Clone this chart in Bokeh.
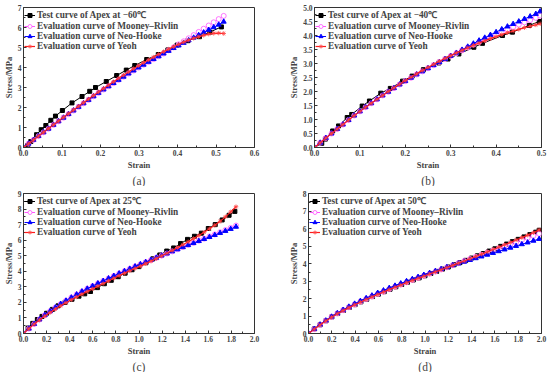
from bokeh.plotting import figure
from bokeh.layouts import column, row
from bokeh.models import FixedTicker, PrintfTickFormatter
from bokeh.embed import file_html
from bokeh.resources import INLINE

SERIF = "Liberation Serif"

# ---------------- data ----------------
# (a) -60 C
A_TEST_X = [0, 0.011, 0.019, 0.034, 0.046, 0.058, 0.071, 0.083, 0.101, 0.126, 0.152, 0.172, 0.187,
            0.215, 0.242, 0.267, 0.289, 0.32, 0.35, 0.375, 0.399, 0.427, 0.457, 0.484, 0.514]
A_TEST_Y = [0, 0.1, 0.3, 0.64, 0.89, 1.1, 1.36, 1.57, 1.85, 2.23, 2.55, 2.81, 3.0,
            3.3, 3.6, 3.87, 4.1, 4.4, 4.65, 4.88, 5.12, 5.34, 5.54, 5.77, 6.03]
A_EV_X = [0, 0.013, 0.026, 0.039, 0.052, 0.065, 0.078, 0.091, 0.104, 0.117, 0.13, 0.143, 0.156, 0.169,
          0.182, 0.195, 0.208, 0.221, 0.234, 0.247, 0.26, 0.273, 0.286, 0.299, 0.312, 0.325, 0.338,
          0.351, 0.364, 0.377, 0.39, 0.403, 0.416, 0.429, 0.442, 0.455, 0.468, 0.481, 0.494, 0.507, 0.52]
A_NH = [0, 0.19, 0.38, 0.57, 0.76, 0.94, 1.13, 1.31, 1.49, 1.67, 1.85, 2.03, 2.21, 2.38, 2.56, 2.73,
        2.90, 3.06, 3.22, 3.38, 3.54, 3.70, 3.85, 4.00, 4.14, 4.28, 4.42, 4.56, 4.70, 4.83, 4.97,
        5.10, 5.23, 5.36, 5.49, 5.62, 5.75, 5.88, 6.01, 6.14, 6.29]
A_MR = [0, 0.19, 0.38, 0.57, 0.76, 0.94, 1.13, 1.31, 1.49, 1.67, 1.85, 2.03, 2.21, 2.38, 2.56, 2.73,
        2.90, 3.06, 3.22, 3.38, 3.54, 3.70, 3.85, 4.00, 4.14, 4.28, 4.42, 4.56, 4.70, 4.86, 5.01,
        5.16, 5.31, 5.46, 5.62, 5.78, 5.94, 6.10, 6.26, 6.42, 6.58]
A_YEOH = [0, 0.19, 0.38, 0.57, 0.76, 0.95, 1.14, 1.32, 1.51, 1.69, 1.88, 2.06, 2.24, 2.42, 2.60, 2.78,
          2.95, 3.12, 3.29, 3.46, 3.62, 3.78, 3.94, 4.09, 4.24, 4.38, 4.52, 4.66, 4.79, 4.92, 5.04,
          5.16, 5.27, 5.37, 5.46, 5.54, 5.61, 5.67, 5.71, 5.72, 5.70]

# (b) -40 C
B_TEST_X = [0, 0.016, 0.024, 0.04, 0.053, 0.072, 0.082, 0.105, 0.121, 0.146, 0.167, 0.194, 0.215,
            0.24, 0.274, 0.294, 0.318, 0.351, 0.37, 0.414, 0.436, 0.473, 0.495]
B_TEST_Y = [0, 0.15, 0.3, 0.59, 0.77, 1.07, 1.18, 1.48, 1.66, 1.94, 2.11, 2.37, 2.55,
            2.78, 3.02, 3.16, 3.34, 3.58, 3.72, 4.0, 4.12, 4.36, 4.5]
B_EV_X = [0, 0.0125, 0.025, 0.0375, 0.05, 0.0625, 0.075, 0.0875, 0.1, 0.1125, 0.125, 0.1375, 0.15,
          0.1625, 0.175, 0.1875, 0.2, 0.2125, 0.225, 0.2375, 0.25, 0.2625, 0.275, 0.2875, 0.3, 0.3125,
          0.325, 0.3375, 0.35, 0.3625, 0.375, 0.3875, 0.4, 0.4125, 0.425, 0.4375, 0.45, 0.4625, 0.475,
          0.4875, 0.497]
B_NH = [0, 0.17, 0.34, 0.50, 0.66, 0.82, 0.98, 1.14, 1.29, 1.44, 1.58, 1.72, 1.86, 1.99, 2.12, 2.25,
        2.37, 2.49, 2.61, 2.72, 2.83, 2.94, 3.05, 3.16, 3.27, 3.38, 3.49, 3.60, 3.71, 3.82, 3.92,
        4.02, 4.12, 4.22, 4.32, 4.41, 4.50, 4.59, 4.68, 4.77, 4.86]
B_MR = [0, 0.17, 0.34, 0.50, 0.66, 0.82, 0.98, 1.14, 1.29, 1.44, 1.58, 1.72, 1.86, 1.99, 2.12, 2.25,
        2.37, 2.49, 2.61, 2.72, 2.83, 2.94, 3.05, 3.16, 3.27, 3.37, 3.47, 3.57, 3.67, 3.77, 3.86,
        3.95, 4.04, 4.13, 4.22, 4.30, 4.39, 4.47, 4.55, 4.63, 4.71]
B_YEOH = [0, 0.17, 0.34, 0.50, 0.66, 0.82, 0.98, 1.14, 1.29, 1.44, 1.58, 1.72, 1.86, 2.00, 2.13, 2.26,
          2.39, 2.51, 2.63, 2.75, 2.86, 2.97, 3.08, 3.18, 3.28, 3.38, 3.47, 3.56, 3.65, 3.73, 3.81,
          3.89, 3.96, 4.03, 4.10, 4.16, 4.22, 4.28, 4.33, 4.38, 4.42]

# (c) 25 C
C_TEST_X = [0, 0.04, 0.08, 0.12, 0.16, 0.2, 0.25, 0.3, 0.36, 0.42, 0.48, 0.53, 0.58, 0.64, 0.7, 0.76,
            0.82, 0.88, 0.94, 1.0, 1.06, 1.12, 1.18, 1.24, 1.3, 1.36, 1.42, 1.48, 1.54, 1.6, 1.66,
            1.72, 1.78, 1.83]
C_TEST_Y = [0, 0.35, 0.65, 0.9, 1.1, 1.3, 1.55, 1.78, 2.0, 2.2, 2.4, 2.55, 2.7, 2.95, 3.2, 3.42,
            3.65, 3.88, 4.1, 4.3, 4.55, 4.8, 5.05, 5.3, 5.5, 5.78, 6.05, 6.25, 6.45, 6.75, 7.0,
            7.3, 7.6, 7.85]
C_EV_X = [0, 0.046, 0.092, 0.138, 0.184, 0.23, 0.276, 0.322, 0.368, 0.414, 0.46, 0.506, 0.552, 0.598,
          0.644, 0.69, 0.736, 0.782, 0.828, 0.874, 0.92, 0.966, 1.012, 1.058, 1.104, 1.15, 1.196,
          1.242, 1.288, 1.334, 1.38, 1.426, 1.472, 1.518, 1.564, 1.61, 1.656, 1.702, 1.748, 1.794, 1.84]
C_NH = [0, 0.31, 0.61, 0.90, 1.18, 1.43, 1.67, 1.90, 2.11, 2.31, 2.51, 2.70, 2.88, 3.05, 3.22, 3.38,
        3.54, 3.70, 3.86, 4.01, 4.16, 4.31, 4.45, 4.59, 4.73, 4.87, 5.01, 5.14, 5.28, 5.41, 5.55,
        5.68, 5.81, 5.94, 6.07, 6.20, 6.33, 6.46, 6.59, 6.72, 6.86]
C_MR = [0, 0.31, 0.61, 0.90, 1.18, 1.43, 1.67, 1.90, 2.11, 2.31, 2.51, 2.70, 2.88, 3.05, 3.22, 3.38,
        3.54, 3.70, 3.86, 4.01, 4.16, 4.31, 4.45, 4.59, 4.73, 4.87, 5.01, 5.14, 5.28, 5.42, 5.56,
        5.70, 5.83, 5.97, 6.10, 6.24, 6.37, 6.51, 6.65, 6.79, 6.94]
C_YEOH = [0, 0.31, 0.60, 0.87, 1.12, 1.35, 1.57, 1.78, 1.98, 2.17, 2.35, 2.53, 2.70, 2.87, 3.04, 3.21,
          3.38, 3.55, 3.72, 3.88, 4.03, 4.18, 4.33, 4.49, 4.65, 4.82, 4.99, 5.16, 5.34, 5.52, 5.71,
          5.90, 6.10, 6.30, 6.51, 6.73, 6.96, 7.21, 7.50, 7.82, 8.15]

# (d) 50 C
D_TEST_X = [0, 0.05, 0.1, 0.15, 0.2, 0.25, 0.3, 0.35, 0.4, 0.45, 0.5, 0.55, 0.6, 0.65, 0.7, 0.75,
            0.8, 0.85, 0.9, 0.95, 1.0, 1.05, 1.1, 1.15, 1.2, 1.25, 1.3, 1.35, 1.4, 1.45, 1.5, 1.55,
            1.6, 1.65, 1.7, 1.75, 1.8, 1.85, 1.9, 1.95, 1.98]
D_TEST_Y = [0, 0.26, 0.5, 0.73, 0.95, 1.14, 1.32, 1.49, 1.65, 1.81, 1.96, 2.11, 2.25, 2.39, 2.53,
            2.67, 2.8, 2.93, 3.06, 3.18, 3.3, 3.43, 3.55, 3.68, 3.8, 3.93, 4.05, 4.18, 4.31, 4.44,
            4.57, 4.71, 4.84, 4.98, 5.11, 5.25, 5.38, 5.52, 5.65, 5.79, 5.9]
D_EV_X = [0, 0.0495, 0.099, 0.1485, 0.198, 0.2475, 0.297, 0.3465, 0.396, 0.4455, 0.495, 0.5445,
          0.594, 0.6435, 0.693, 0.7425, 0.792, 0.8415, 0.891, 0.9405, 0.99, 1.0395, 1.089, 1.1385,
          1.188, 1.2375, 1.287, 1.3365, 1.386, 1.4355, 1.485, 1.5345, 1.584, 1.6335, 1.683, 1.7325,
          1.782, 1.8315, 1.881, 1.9305, 1.98]
D_NH = [0, 0.26, 0.51, 0.74, 0.96, 1.16, 1.35, 1.53, 1.70, 1.86, 2.02, 2.17, 2.32, 2.46, 2.60, 2.73,
        2.86, 2.99, 3.11, 3.23, 3.35, 3.46, 3.57, 3.68, 3.79, 3.90, 4.00, 4.10, 4.20, 4.30, 4.40,
        4.50, 4.60, 4.70, 4.80, 4.90, 5.00, 5.10, 5.20, 5.30, 5.40]
D_MR = [0, 0.25, 0.50, 0.73, 0.95, 1.15, 1.33, 1.50, 1.66, 1.82, 1.97, 2.12, 2.26, 2.40, 2.54, 2.67,
        2.80, 2.93, 3.06, 3.18, 3.30, 3.42, 3.54, 3.66, 3.78, 3.90, 4.02, 4.14, 4.26, 4.38, 4.50,
        4.62, 4.74, 4.86, 4.98, 5.10, 5.22, 5.34, 5.46, 5.58, 5.70]
D_YEOH = [0, 0.25, 0.49, 0.72, 0.93, 1.13, 1.31, 1.48, 1.64, 1.79, 1.94, 2.09, 2.23, 2.37, 2.51, 2.64,
          2.77, 2.90, 3.03, 3.15, 3.27, 3.40, 3.52, 3.64, 3.77, 3.89, 4.02, 4.14, 4.27, 4.40, 4.53,
          4.66, 4.80, 4.93, 5.07, 5.20, 5.34, 5.48, 5.62, 5.76, 5.92]

# tick positions / labels
A_XTICKS = [0.0, 0.1, 0.2, 0.3, 0.4, 0.5, 0.6]
A_YTICKS = [0, 1, 2, 3, 4, 5, 6, 7]
B_XTICKS = [0.0, 0.1, 0.2, 0.3, 0.4, 0.5]
B_YTICKS = [0.0, 0.5, 1.0, 1.5, 2.0, 2.5, 3.0, 3.5, 4.0, 4.5, 5.0]
C_XTICKS = [0.0, 0.2, 0.4, 0.6, 0.8, 1.0, 1.2, 1.4, 1.6, 1.8, 2.0]
C_YTICKS = [0, 1, 2, 3, 4, 5, 6, 7, 8, 9]
D_XTICKS = [0.0, 0.2, 0.4, 0.6, 0.8, 1.0, 1.2, 1.4, 1.6, 1.8, 2.0]
D_YTICKS = [0, 1, 2, 3, 4, 5, 6, 7, 8]

SERIES_LABELS = ["Evaluation curve of Mooney\u2013Rivlin", "Evaluation curve of Neo-Hooke",
                 "Evaluation curve of Yeoh"]
TEST_LABELS = ["Test curve of Apex at \u221260\u2103", "Test curve of Apex at \u221240\u2103",
               "Test curve of Apex at 25\u2103", "Test curve of Apex at 50\u2103"]
PANEL_LETTERS = ["(a)", "(b)", "(c)", "(d)"]


def mids(t):
    return [(t[i] + t[i + 1]) / 2 for i in range(len(t) - 1)]


def panel(letter, test_label, tx, ty, ex, mr, nh, yeoh, xticks, yticks, xfmt, yfmt,
          bl, br, bt, bb):
    p = figure(width=275, height=186, x_range=(xticks[0], xticks[-1]),
               y_range=(yticks[0], yticks[-1]), output_backend="svg", toolbar_location=None,
               min_border_left=bl, min_border_right=br, min_border_top=bt, min_border_bottom=bb,
               title=letter, title_location="below", background_fill_color="white",
               border_fill_color="white")
    p.grid.visible = False
    p.outline_line_color = "#333333"
    p.outline_line_width = 1
    p.title.align = "center"
    p.title.text_font = SERIF
    p.title.text_font_size = "11.5px"
    p.title.text_font_style = "normal"
    p.title.standoff = 0
    p.title.offset = 0

    for ax, ticks, fmt, lab in ((p.xaxis[0], xticks, xfmt, "Strain"),
                                (p.yaxis[0], yticks, yfmt, "Stress/MPa")):
        ax.ticker = FixedTicker(ticks=ticks, minor_ticks=mids(ticks))
        ax.formatter = PrintfTickFormatter(format=fmt)
        ax.axis_label = lab
        ax.axis_label_text_font = SERIF
        ax.axis_label_text_font_style = "bold"
        ax.axis_label_text_font_size = "8.5px"
        ax.axis_label_standoff = 1
        ax.major_label_text_font = SERIF
        ax.major_label_text_font_style = "bold"
        ax.major_label_text_font_size = "7.5px"
        ax.major_label_standoff = 2
        ax.major_tick_in = 3
        ax.major_tick_out = 0
        ax.minor_tick_in = 2
        ax.minor_tick_out = 0
        ax.axis_line_color = "#333333"
        ax.major_tick_line_color = "#333333"
        ax.minor_tick_line_color = "#333333"

    p.line(tx, ty, line_color="black", line_width=1, legend_label=test_label)
    p.scatter(tx, ty, marker="square", size=4, fill_color="black", line_color="black",
              legend_label=test_label)
    p.line(ex, mr, line_color="#ff55ff", line_width=1, legend_label=SERIES_LABELS[0])
    p.scatter(ex, mr, marker="circle", size=5, fill_color="white", line_color="#ff55ff",
              line_width=0.8, legend_label=SERIES_LABELS[0])
    p.line(ex, nh, line_color="#0000ff", line_width=1, legend_label=SERIES_LABELS[1])
    p.scatter(ex, nh, marker="triangle", size=5, fill_color="#0000ff", line_color="#0000ff",
              legend_label=SERIES_LABELS[1])
    p.line(ex, yeoh, line_color="#ff1a1a", line_width=1.2, legend_label=SERIES_LABELS[2])
    p.scatter(ex, yeoh, marker="asterisk", size=4.5, line_color="#ff4040", line_width=0.8,
              legend_label=SERIES_LABELS[2])

    lg = p.legend[0]
    lg.location = "top_left"
    lg.border_line_color = None
    lg.background_fill_alpha = 0
    lg.label_text_font = SERIF
    lg.label_text_font_style = "bold"
    lg.label_text_font_size = "9.3px"
    lg.label_height = 10
    lg.glyph_height = 10
    lg.glyph_width = 11
    lg.label_standoff = 2
    lg.spacing = 0
    lg.padding = 2
    lg.margin = 1
    return p


pa = panel(PANEL_LETTERS[0], TEST_LABELS[0], A_TEST_X, A_TEST_Y, A_EV_X, A_MR, A_NH, A_YEOH,
           A_XTICKS, A_YTICKS, "%.1f", "%d", 20, 21, 7, 36)
pb = panel(PANEL_LETTERS[1], TEST_LABELS[1], B_TEST_X, B_TEST_Y, B_EV_X, B_MR, B_NH, B_YEOH,
           B_XTICKS, B_YTICKS, "%.1f", "%.1f", 39, 9, 7, 36)
pc = panel(PANEL_LETTERS[2], TEST_LABELS[2], C_TEST_X, C_TEST_Y, C_EV_X, C_MR, C_NH, C_YEOH,
           C_XTICKS, C_YTICKS, "%.1f", "%d", 18, 21, 7, 37)
pd = panel(PANEL_LETTERS[3], TEST_LABELS[3], D_TEST_X, D_TEST_Y, D_EV_X, D_MR, D_NH, D_YEOH,
           D_XTICKS, D_YTICKS, "%.1f", "%d", 33, 9, 7, 37)

layout = column(row(pa, pb), row(pc, pd))
open("out.html", "w").write(file_html(layout, INLINE))
